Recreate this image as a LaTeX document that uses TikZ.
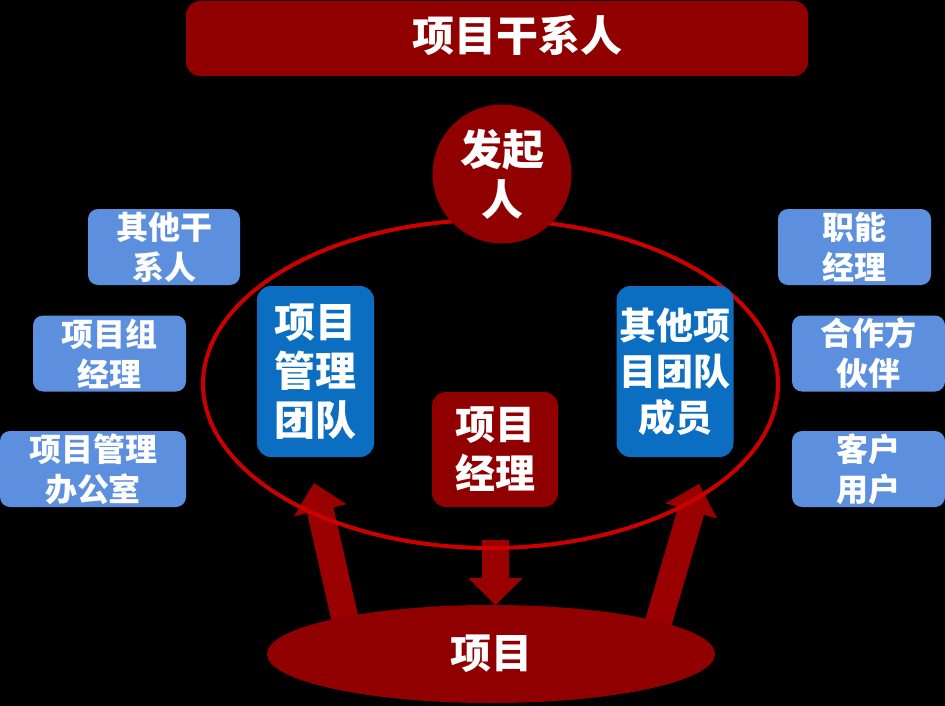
\documentclass[tikz,border=0pt]{standalone}
\usepackage{fontspec}
\setmainfont{Noto Sans CJK SC}
\usetikzlibrary{calc,shapes.geometric}
\definecolor{darkred}{RGB}{145,0,0}
\definecolor{arrowred}{RGB}{155,0,0}
\definecolor{ringred}{RGB}{205,0,0}
\definecolor{lightblue}{RGB}{92,144,222}
\definecolor{teamblue}{RGB}{12,110,192}
% start, tip, shaft half width, head half width, head length
\newcommand\myblockarrow[5]{%
  \path (#2) coordinate (ba-tip) ($(#2)!#5!(#1)$) coordinate (ba-hb);
  \fill[arrowred] ($(#1)!#3!90:(#2)$) -- ($(ba-hb)!#3!90:(ba-tip)$)
    -- ($(ba-hb)!#4!90:(ba-tip)$) -- (ba-tip)
    -- ($(ba-hb)!#4!-90:(ba-tip)$) -- ($(ba-hb)!#3!-90:(ba-tip)$)
    -- ($(#1)!#3!-90:(#2)$) -- cycle;}
\tikzset{
  box/.style={inner sep=0pt, align=center, text=white, font=\bfseries\fontsize{32}{40}\selectfont},
  sidebox/.style={box, fill=lightblue, rounded corners=10pt, minimum width=153pt, minimum height=76pt},
  teambox/.style={box, fill=teamblue, rounded corners=14pt, minimum width=117pt, minimum height=171pt},
}
\begin{document}
\begin{tikzpicture}[x=1pt,y=-1pt]
\useasboundingbox (0,0) rectangle (945,706);
\fill[black] (0,0) rectangle (945,706);
% title
\node[fill=darkred, rounded corners=14pt, minimum width=622pt, minimum height=75pt, inner sep=0pt] (title) at (497,38.5) {};
\node[box, font=\bfseries\fontsize{42}{48}\selectfont] (titletext) at (517,35) {项目干系人};
% side boxes
\node[sidebox, minimum width=152pt] (other) at (164,247) {其他干\\系人};
\node[sidebox] (groupmgr) at (109.5,353.5) {项目组\\经理};
\node[sidebox, minimum width=186pt] (pmo) at (93,469) {项目管理\\办公室};
\node[sidebox] (funcmgr) at (854.5,247) {职能\\经理};
\node[sidebox] (partner) at (868.5,353.5) {合作方\\伙伴};
\node[sidebox] (customer) at (868.5,469) {客户\\用户};
% arrows
\coordinate (lbase) at (348,632);
\coordinate (ltip) at (314,483);
\coordinate (rbase) at (655,634);
\coordinate (rtip) at (699,484);
\coordinate (dbase) at (495.5,540);
\coordinate (dtip) at (495.5,605);
\myblockarrow{lbase}{ltip}{13.5pt}{27pt}{28pt}
\myblockarrow{rbase}{rtip}{13.5pt}{27pt}{28pt}
\myblockarrow{dbase}{dtip}{13.5pt}{27.5pt}{27pt}
% ring
\draw[ringred, line width=4pt] (490.5,384) ellipse [x radius=287.5pt, y radius=164pt];
% sponsor
\node[circle, fill=darkred, minimum size=139pt, inner sep=0pt, box, font=\bfseries\fontsize{42}{50}\selectfont] (sponsor) at (502,174) {发起\\人};
% teams
\node[teambox, font=\bfseries\fontsize{41}{49}\selectfont] (pmteam) at (315.5,371.5) {项目\\管理\\团队};
\node[teambox, font=\bfseries\fontsize{37}{46}\selectfont] (members) at (675,371.5) {其他项\\目团队\\成员};
\node[box, fill=darkred, rounded corners=14pt, minimum width=126pt, minimum height=115pt, font=\bfseries\fontsize{40}{49}\selectfont] (pm) at (495,449.5) {项目\\经理};
% project
\node[ellipse, fill=darkred, minimum width=448pt, minimum height=98pt, inner sep=0pt, text=white, font=\bfseries\fontsize{41}{48}\selectfont] (project) at (491,654) {项目};
\end{tikzpicture}
\end{document}
